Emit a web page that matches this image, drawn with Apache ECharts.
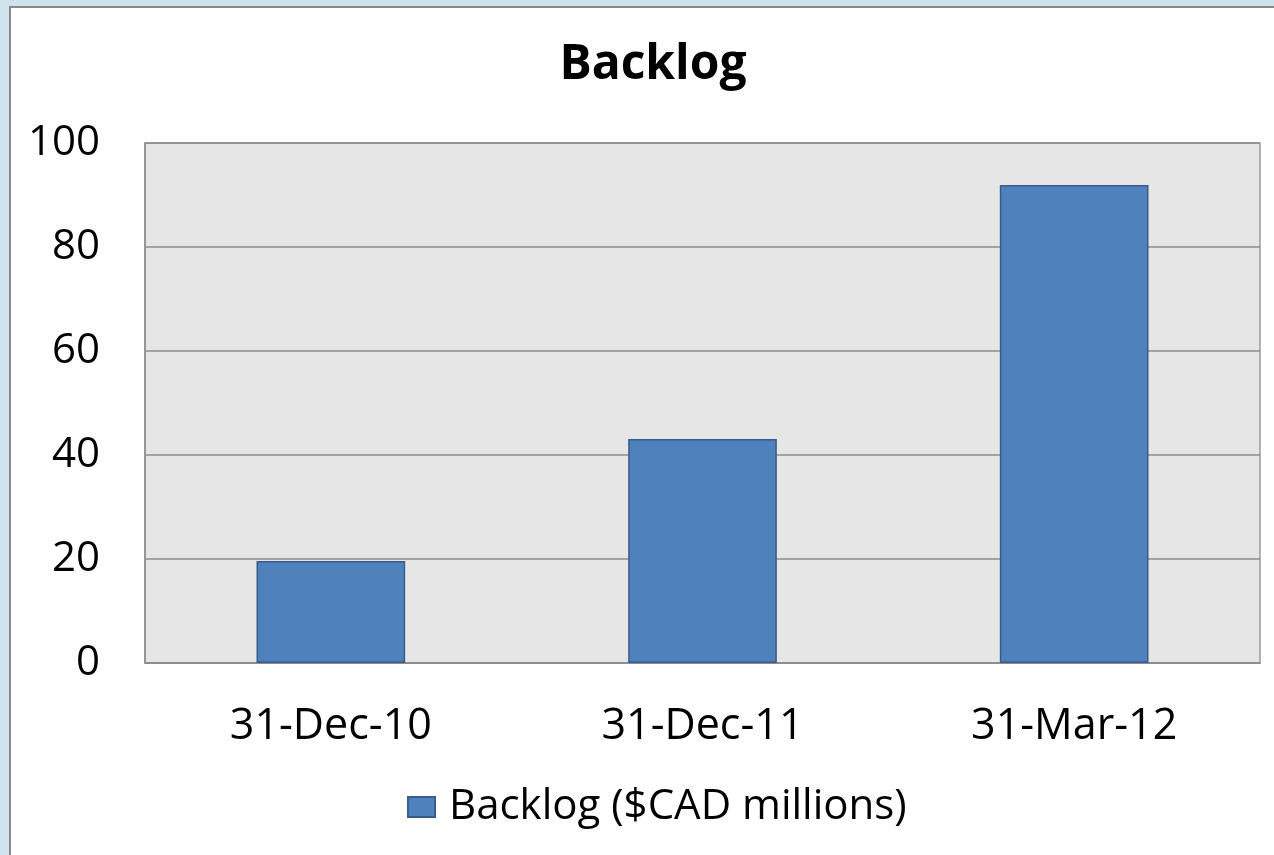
<!DOCTYPE html>
<html>
<head>
<meta charset="utf-8">
<script src="https://cdn.jsdelivr.net/npm/echarts@6/dist/echarts.min.js"></script>
<style>
html,body{margin:0;padding:0;width:1274px;height:855px;overflow:hidden;background:#cfe2ee;}
#panel{position:absolute;left:9px;top:6px;width:1265px;height:849px;background:#fff;border-left:2px solid #8a8a8a;border-top:2px solid #8a8a8a;box-sizing:border-box;}
#chart{position:absolute;left:0;top:0;width:1274px;height:855px;}
</style>
</head>
<body>
<div id="panel"></div>
<div id="chart"></div>
<script>
const categories = ['31-Dec-10', '31-Dec-11', '31-Mar-12'];
const backlog = [19.6, 43.1, 91.9];
const yTicks = [0, 20, 40, 60, 80, 100];
const seriesName = 'Backlog ($CAD millions)';

const FONT = '"Open Sans", "Liberation Sans", sans-serif';
const chart = echarts.init(document.getElementById('chart'), null, {renderer: 'canvas'});
chart.setOption({
  backgroundColor: 'transparent',
  animation: false,
  title: {
    text: 'Backlog',
    left: 648, top: 36, textAlign: 'center',
    textStyle: {fontFamily: FONT, fontWeight: 'bold', fontSize: 48, color: '#000'}
  },
  legend: {
    data: [seriesName],
    left: 402, top: 781,
    itemWidth: 27, itemHeight: 20, itemGap: 10,
    textStyle: {fontFamily: FONT, fontSize: 42, color: '#000', padding: [0, 0, 0, 9]},
    icon: 'rect'
  },
  grid: {
    left: 145, top: 143, right: 14, bottom: 192,
    show: true, backgroundColor: '#e6e6e6', borderColor: '#9a9a9a', borderWidth: 1.5
  },
  xAxis: {
    type: 'category',
    data: categories,
    axisLine: {show: true, lineStyle: {color: '#8c8c8c', width: 1.5}},
    axisTick: {show: false},
    axisLabel: {fontFamily: FONT, fontSize: 43, color: '#000', margin: 42}
  },
  yAxis: {
    type: 'value',
    min: 0, max: 100, interval: 20,
    axisLine: {show: true, lineStyle: {color: '#8c8c8c', width: 1.5}},
    axisTick: {show: false},
    splitLine: {lineStyle: {color: '#8c8c8c', width: 1.5}},
    axisLabel: {fontFamily: FONT, fontSize: 42, color: '#000', margin: 45,
      formatter: v => yTicks.includes(v) ? String(v) : ''}
  },
  series: [{
    name: seriesName,
    type: 'bar',
    data: backlog,
    barWidth: '40%',
    itemStyle: {color: '#4f81bd', borderColor: '#385d8a', borderWidth: 1.5}
  }]
});
</script>
</body>
</html>
